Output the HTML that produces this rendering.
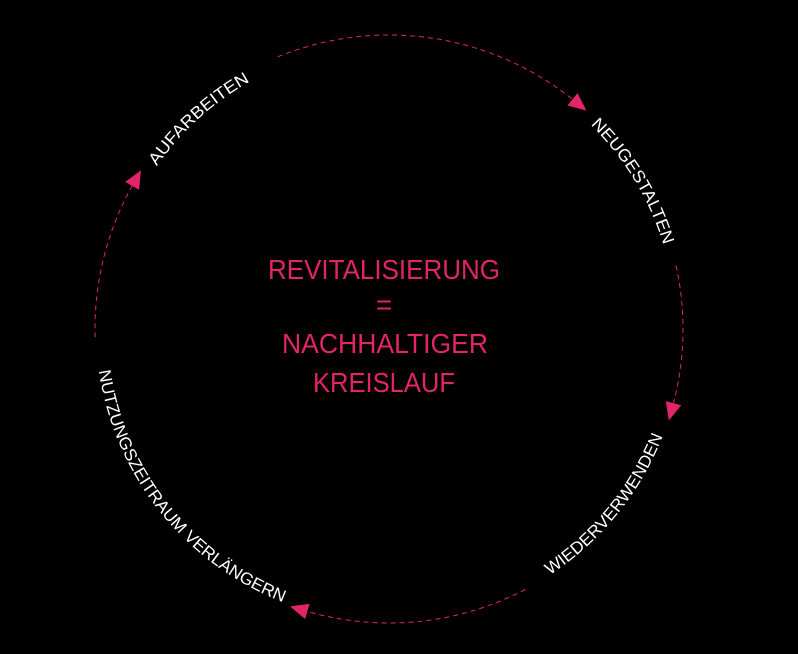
<!DOCTYPE html>
<html><head><meta charset="utf-8"><style>
html,body{margin:0;padding:0;background:#000;}
svg{display:block;}
</style></head><body>
<svg width="798" height="654" viewBox="0 0 798 654" xmlns="http://www.w3.org/2000/svg">
<defs>
<marker id="ar" markerUnits="userSpaceOnUse" markerWidth="18" markerHeight="16" refX="2" refY="8" orient="auto">
<path d="M0,0 L18,8 L0,16 z" fill="#e2246a"/>
</marker>
<path id="p1" d="M118.9,243.1 A284,284 0 0 1 330.0,51.2"/>
<path id="p2" d="M527.3,77.5 A287,287 0 0 1 676.0,323.0"/>
<path id="p3" d="M493.9,603.6 A294,294 0 0 0 679.3,375.5"/>
<path id="p4" d="M116.3,221.6 A293,293 0 0 0 432.3,618.8"/>
</defs>
<g fill="none" stroke="#e2246a" stroke-width="1" stroke-dasharray="5 4">
<path d="M277.9,56.8 A294,294 0 0 1 574.0,100.5" marker-end="url(#ar)"/>
<path d="M676.0,265.4 A294,294 0 0 1 673.0,405.1" marker-end="url(#ar)"/>
<path d="M525.2,589.5 A294,294 0 0 1 305.5,610.9" marker-end="url(#ar)"/>
<path d="M95.1,337.2 A294,294 0 0 1 133.1,184.2" marker-end="url(#ar)"/>
</g>
<g font-family="Liberation Sans, sans-serif" font-size="17" fill="#fff">
<text><textPath href="#p1" startOffset="50%" text-anchor="middle" textLength="127" lengthAdjust="spacingAndGlyphs">AUFARBEITEN</textPath></text>
<text><textPath href="#p2" startOffset="50%" text-anchor="middle" textLength="142" lengthAdjust="spacingAndGlyphs">NEUGESTALTEN</textPath></text>
<text><textPath href="#p3" startOffset="50%" text-anchor="middle" textLength="182" lengthAdjust="spacingAndGlyphs">WIEDERVERWENDEN</textPath></text>
<text><textPath href="#p4" startOffset="50%" text-anchor="middle" textLength="310" lengthAdjust="spacingAndGlyphs">NUTZUNGSZEITRAUM VERLÄNGERN</textPath></text>
</g>
<g font-family="Liberation Sans, sans-serif" font-size="28" fill="#e2246a" text-anchor="middle">
<text x="384" y="279" textLength="232" lengthAdjust="spacingAndGlyphs">REVITALISIERUNG</text>
<text x="384" y="314">=</text>
<text x="385" y="353" textLength="206" lengthAdjust="spacingAndGlyphs">NACHHALTIGER</text>
<text x="384" y="392" textLength="142" lengthAdjust="spacingAndGlyphs">KREISLAUF</text>
</g>
</svg>
</body></html>
